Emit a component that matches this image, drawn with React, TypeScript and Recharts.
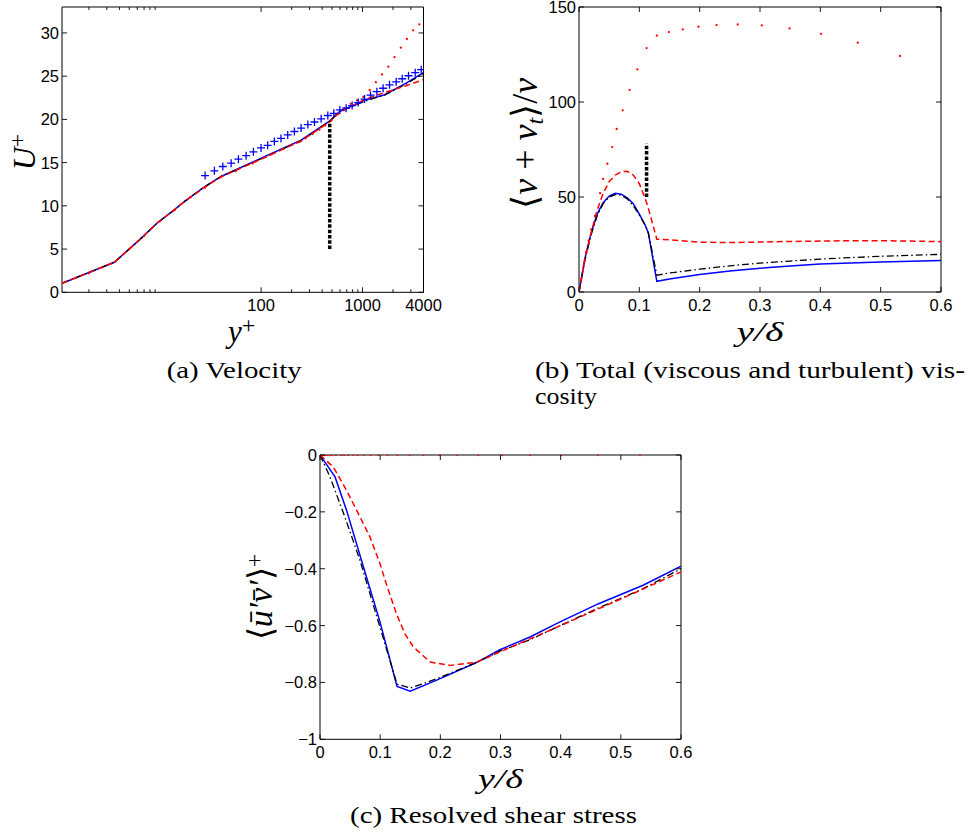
import React from 'react';
import { ComposedChart, Line, Scatter, XAxis, YAxis, ReferenceArea } from 'recharts';

// ---------------- Panel (a): velocity profile U+ vs y+ (log x) ----------------
const velYPlus = [1.09, 3.56, 6.3, 9.55, 13.9, 17.5, 26.5, 40.3, 100, 248, 472, 593, 1047, 1650, 2700, 4000];
const velBlue = [1.05, 3.47, 6.06, 8.07, 9.53, 10.5, 12.05, 13.4, 15.5, 17.6, 19.8, 20.9, 22.2, 22.85, 24.2, 25.4];
const velBlack = [1.05, 3.47, 6.06, 8.07, 9.53, 10.5, 12.05, 13.4, 15.45, 17.55, 19.75, 20.9, 22.1, 22.8, 24.1, 25.3];
const velRedDash = [1.05, 3.47, 6.06, 8.07, 9.53, 10.5, 12.0, 13.35, 15.4, 17.5, 19.7, 20.8, 22.3, 23.1, 23.9, 24.6];
const velDotYPlus = [1.1, 1.5, 2.0, 2.7, 3.6, 5.0, 7.0, 10, 14, 20, 28, 40, 56, 82, 123, 164, 205, 240, 274, 322, 376, 428, 493, 575, 664, 766, 883, 1020, 1177, 1355, 1560, 1800, 2073, 2388, 2744, 3161, 3640];
const velDotU = [1.1, 1.7, 2.2, 2.9, 3.5, 5.0, 6.5, 8.2, 9.5, 11.0, 12.1, 13.3, 14.0, 14.9, 15.9, 16.6, 17.1, 17.4, 17.8, 18.3, 18.8, 19.3, 19.9, 20.6, 21.3, 21.8, 22.2, 22.6, 23.4, 24.3, 25.2, 26.1, 27.2, 28.3, 29.3, 30.3, 31.0];
const velPlusYPlus = [28.0, 34.6, 41.9, 50.6, 59.7, 71.1, 83.9, 99.8, 116, 135, 157, 183, 213, 248, 289, 336, 391, 455, 521, 598, 690, 791, 907, 1047, 1200, 1387, 1600, 1849, 2153, 2466, 2845, 3312, 3796];
const velPlusU = [13.5, 14.05, 14.55, 14.94, 15.4, 15.8, 16.25, 16.7, 17.0, 17.45, 17.8, 18.2, 18.6, 19.0, 19.4, 19.7, 20.07, 20.45, 20.7, 21.1, 21.3, 21.6, 21.95, 22.35, 22.8, 23.2, 23.6, 24.0, 24.35, 24.7, 25.05, 25.4, 25.75];
const velMarkerYPlus = [475, 475];
const velMarkerU = [5, 19.8];
const velXMajor = [100, 1000, 4000];
const velXMinor = [2, 3, 4, 5, 6, 7, 8, 9, 200, 300, 400, 500, 600, 700, 800, 900, 2000, 3000];
const velYTicks = [0, 5, 10, 15, 20, 25, 30];

// ---------------- Panel (b): total viscosity vs y/delta ----------------
const nuX = [0, 0.01, 0.02, 0.03, 0.04, 0.05, 0.06, 0.07, 0.08, 0.09, 0.1, 0.11, 0.115, 0.129, 0.15, 0.2, 0.25, 0.3, 0.35, 0.4, 0.45, 0.5, 0.55, 0.6];
const nuBlue = [0, 18, 31, 41, 47, 50.5, 52, 51.5, 49.5, 46.5, 41, 35, 31, 5.6, 6.8, 9.2, 11, 12.5, 13.7, 14.7, 15.3, 15.8, 16.2, 16.6];
const nuBlack = [0, 17, 30, 40, 46.5, 50, 51.3, 51, 49, 45.5, 40.5, 35, 31, 8.8, 10, 12, 13.8, 15.2, 16.3, 17.3, 18.1, 18.8, 19.3, 19.8];
const nuRedDash = [0, 18, 31, 43, 52, 58, 61.5, 63.3, 63.5, 61.5, 57, 49, 44, 27.8, 27.5, 26.2, 26, 26.3, 26.6, 26.8, 27, 27, 26.8, 26.5];
const nuDotX = [0, 0.004, 0.008, 0.012, 0.016, 0.02, 0.0265, 0.035, 0.04, 0.047, 0.055, 0.0625, 0.0724, 0.084, 0.0967, 0.112, 0.129, 0.149, 0.172, 0.198, 0.228, 0.263, 0.303, 0.349, 0.401, 0.462, 0.532];
const nuDotVal = [0, 7, 14, 21, 27, 33, 40, 52, 59.5, 67.5, 76.3, 85.8, 95.6, 106.3, 117.2, 128.4, 134.9, 136.8, 138.2, 139.6, 140.5, 140.8, 140.3, 138.7, 135.9, 131.2, 124.2];
const nuMarkerX = [0.112, 0.112];
const nuMarkerVal = [50, 78];
const nuYTicks = [0, 50, 100, 150];
const deltaTicks = [0, 0.1, 0.2, 0.3, 0.4, 0.5, 0.6];

// ---------------- Panel (c): resolved shear stress vs y/delta ----------------
const shearBlueX = [0, 0.025, 0.045, 0.069, 0.0997, 0.128, 0.15, 0.194, 0.26, 0.299, 0.349, 0.399, 0.463, 0.537, 0.6];
const shearBlue = [0, -0.077, -0.2, -0.371, -0.587, -0.814, -0.831, -0.792, -0.73, -0.685, -0.64, -0.587, -0.523, -0.458, -0.391];
const shearBlackX = [0, 0.0166, 0.04, 0.0665, 0.0997, 0.128, 0.15, 0.194, 0.26, 0.299, 0.349, 0.399, 0.463, 0.537, 0.6];
const shearBlack = [0, -0.077, -0.21, -0.371, -0.606, -0.806, -0.82, -0.787, -0.73, -0.69, -0.65, -0.6, -0.538, -0.47, -0.4];
const shearRedX = [0, 0.022, 0.044, 0.061, 0.083, 0.0997, 0.11, 0.127, 0.141, 0.155, 0.183, 0.216, 0.26, 0.305, 0.4, 0.526, 0.6];
const shearRed = [0, -0.042, -0.124, -0.195, -0.288, -0.382, -0.452, -0.558, -0.628, -0.675, -0.728, -0.74, -0.729, -0.687, -0.6, -0.482, -0.411];
const shearDotVal = [0, 0, 0, 0, 0, 0, 0, 0, 0, 0, 0, 0, 0, 0, 0, 0, 0, 0, 0, 0, 0, 0, 0, 0, 0, 0, 0];
const shearYTicks = [0, -0.2, -0.4, -0.6, -0.8, -1];

// ---------------- helpers ----------------
const pts = (xs: number[], ys: number[]) => xs.map((x, i) => ({ x, y: ys[i] }));
const SANS = '"Liberation Sans", Arial, Helvetica, sans-serif';
const SERIF = '"Liberation Serif", "Times New Roman", serif';
const BLUE = '#0000ff';
const RED = '#ff0000';
const TICK_FS = 16.5;

const fmtDelta = (v: number) => (v === 0 ? '0' : v.toFixed(1));
const fmtInt = (v: number) => String(v);
const fmtShear = (v: number) => (v === 0 ? '0' : v === -1 ? '\u22121' : '\u2212' + Math.abs(v).toFixed(1));

const makeXTick = (plotH: number, major: (v: number) => boolean, fmt: (v: number) => string) => (props: any) => {
  const { x, y, payload } = props;
  const v = payload.value as number;
  const isMaj = major(v);
  const L = isMaj ? 5 : 3;
  return (
    <g>
      <line x1={x} x2={x} y1={y} y2={y - L} stroke="#000" strokeWidth={0.9} />
      <line x1={x} x2={x} y1={y - plotH} y2={y - plotH + L} stroke="#000" strokeWidth={0.9} />
      {isMaj ? (
        <text x={x} y={y + 18.5} textAnchor="middle" fontFamily={SANS} fontSize={TICK_FS} fill="#000">
          {fmt(v)}
        </text>
      ) : null}
    </g>
  );
};

const makeYTick = (plotW: number, fmt: (v: number) => string) => (props: any) => {
  const { x, y, payload } = props;
  const v = payload.value as number;
  return (
    <g>
      <line x1={x} x2={x + 5} y1={y} y2={y} stroke="#000" strokeWidth={0.9} />
      <line x1={x + plotW} x2={x + plotW - 5} y1={y} y2={y} stroke="#000" strokeWidth={0.9} />
      <text x={x - 3} y={y + 6} textAnchor="end" fontFamily={SANS} fontSize={TICK_FS} fill="#000">
        {fmt(v)}
      </text>
    </g>
  );
};

const dotShape = (props: any) => <circle cx={props.cx} cy={props.cy} r={1.15} fill={RED} />;
const plusShape = (props: any) => (
  <path
    d={`M${props.cx - 4},${props.cy}h8M${props.cx},${props.cy - 4}v8`}
    stroke={BLUE}
    strokeWidth={1.3}
    fill="none"
  />
);

type PanelProps = {
  left: number;
  top: number;
  w: number;
  h: number;
  xDomain: [number, number];
  yDomain: [number, number];
  xLog?: boolean;
  xTicks: number[];
  xMajor: (v: number) => boolean;
  fmtX: (v: number) => string;
  yTicks: number[];
  fmtY: (v: number) => string;
  series: React.ReactNode[];
};

function Panel(p: PanelProps) {
  const ML = 70;
  const MT = 10;
  const MR = 20;
  const MB = 30;
  const W = p.w + ML + MR;
  const H = p.h + MT + MB;
  return (
    <div style={{ position: 'absolute', left: p.left - ML, top: p.top - MT, width: W, height: H }}>
      <ComposedChart width={W} height={H} margin={{ top: MT, right: MR, bottom: 0, left: 0 }}>
        <XAxis
          dataKey="x"
          type="number"
          scale={p.xLog ? 'log' : 'linear'}
          domain={p.xDomain}
          allowDataOverflow
          ticks={p.xTicks}
          interval={0}
          tickSize={0}
          tickMargin={0}
          tickLine={false}
          axisLine={false}
          height={MB}
          tick={makeXTick(p.h, p.xMajor, p.fmtX)}
        />
        <YAxis
          dataKey="y"
          type="number"
          domain={p.yDomain}
          allowDataOverflow
          ticks={p.yTicks}
          interval={0}
          tickSize={0}
          tickMargin={0}
          tickLine={false}
          axisLine={false}
          width={ML}
          tick={makeYTick(p.w, p.fmtY)}
        />
        <ReferenceArea
          x1={p.xDomain[0]}
          x2={p.xDomain[1]}
          y1={p.yDomain[0]}
          y2={p.yDomain[1]}
          fill="none"
          fillOpacity={0}
          stroke="#000"
          strokeWidth={1}
          ifOverflow="visible"
        />
        {p.series}
      </ComposedChart>
    </div>
  );
}

const solid = (key: string, data: any[], color: string, width = 1.5) => (
  <Line key={key} data={data} dataKey="y" type="linear" stroke={color} strokeWidth={width} dot={false} activeDot={false} isAnimationActive={false} />
);
const dashed = (key: string, data: any[], color: string, dash: string, width = 1.5) => (
  <Line key={key} data={data} dataKey="y" type="linear" stroke={color} strokeWidth={width} strokeDasharray={dash} dot={false} activeDot={false} isAnimationActive={false} />
);
const dots = (key: string, data: any[]) => (
  <Scatter key={key} data={data} dataKey="y" shape={dotShape} isAnimationActive={false} />
);
const pluses = (key: string, data: any[]) => (
  <Scatter key={key} data={data} dataKey="y" shape={plusShape} isAnimationActive={false} />
);

const DASH_DOT = '7 3 1.5 3';
const DASH = '6 3.5';
const MARK = '3.5 1.8';

export default function App() {
  const seriesA = [
    solid('a-blue', pts(velYPlus, velBlue), BLUE),
    dashed('a-black', pts(velYPlus, velBlack), '#000', DASH_DOT, 1.3),
    dashed('a-red', pts(velYPlus, velRedDash), RED, DASH),
    dots('a-dots', pts(velDotYPlus, velDotU)),
    pluses('a-plus', pts(velPlusYPlus, velPlusU)),
    dashed('a-mark', pts(velMarkerYPlus, velMarkerU), '#000', MARK, 3.5),
  ];
  const seriesB = [
    solid('b-blue', pts(nuX, nuBlue), BLUE),
    dashed('b-black', pts(nuX, nuBlack), '#000', DASH_DOT, 1.3),
    dashed('b-red', pts(nuX, nuRedDash), RED, DASH),
    dots('b-dots', pts(nuDotX, nuDotVal)),
    dashed('b-mark', pts(nuMarkerX, nuMarkerVal), '#000', MARK, 3.5),
  ];
  const seriesC = [
    solid('c-blue', pts(shearBlueX, shearBlue), BLUE),
    dashed('c-black', pts(shearBlackX, shearBlack), '#000', DASH_DOT, 1.3),
    dashed('c-red', pts(shearRedX, shearRed), RED, DASH),
    dots('c-dots', pts(nuDotX, shearDotVal)),
  ];

  const velAll = [...velXMinor, ...velXMajor].sort((a, b) => a - b);

  return (
    <div style={{ position: 'absolute', left: 0, top: 0, width: 974, height: 835, background: '#fff', overflow: 'hidden' }}>
      <Panel
        left={61.5}
        top={7}
        w={361.5}
        h={285.3}
        xDomain={[1.085, 4000]}
        yDomain={[0, 33]}
        xLog
        xTicks={velAll}
        xMajor={(v) => velXMajor.includes(v)}
        fmtX={fmtInt}
        yTicks={velYTicks}
        fmtY={fmtInt}
        series={seriesA}
      />
      <Panel
        left={579}
        top={7.3}
        w={362}
        h={285}
        xDomain={[0, 0.6]}
        yDomain={[0, 150]}
        xTicks={deltaTicks}
        xMajor={() => true}
        fmtX={fmtDelta}
        yTicks={nuYTicks}
        fmtY={fmtInt}
        series={seriesB}
      />
      <Panel
        left={320}
        top={454.7}
        w={361}
        h={284.3}
        xDomain={[0, 0.6]}
        yDomain={[-1, 0]}
        xTicks={deltaTicks}
        xMajor={() => true}
        fmtX={fmtDelta}
        yTicks={shearYTicks}
        fmtY={fmtShear}
        series={seriesC}
      />
      <svg width={974} height={835} style={{ position: 'absolute', left: 0, top: 0, pointerEvents: 'none' }}>
        {/* panel (a) titles */}
        <text transform="translate(35,152) rotate(-90)" textAnchor="middle" fontFamily={SERIF} fontSize={32} fill="#000">
          <tspan fontStyle="italic">U</tspan>
          <tspan fontSize={24} dy={-10}>+</tspan>
        </text>
        <text x={241.7} y={341.7} textAnchor="middle" fontFamily={SERIF} fontSize={31} fill="#000">
          <tspan fontStyle="italic">y</tspan>
          <tspan fontSize={24} dy={-9}>+</tspan>
        </text>
        <text x={166.7} y={378} fontFamily={SERIF} fontSize={23} fill="#000" textLength={135} lengthAdjust="spacingAndGlyphs">
          (a) Velocity
        </text>

        {/* panel (b) titles */}
        <text transform="translate(537,143.3) rotate(-90)" textAnchor="middle" fontFamily={SERIF} fontSize={36} fill="#000">
          <tspan>{'\u27E8'}</tspan>
          <tspan fontStyle="italic">{'\u03BD'}</tspan>
          <tspan>{' + '}</tspan>
          <tspan fontStyle="italic">{'\u03BD'}</tspan>
          <tspan fontStyle="italic" fontSize={24} dy={6}>t</tspan>
          <tspan dy={-6}>{'\u27E9/'}</tspan>
          <tspan fontStyle="italic">{'\u03BD'}</tspan>
        </text>
        <text x={760} y={341} textAnchor="middle" fontFamily={SERIF} fontSize={28} fill="#000" fontStyle="italic" textLength={47} lengthAdjust="spacingAndGlyphs">
          {'y/\u03B4'}
        </text>
        <text x={535} y={378} fontFamily={SERIF} fontSize={23} fill="#000" textLength={430} lengthAdjust="spacingAndGlyphs">
          (b) Total (viscous and turbulent) vis-
        </text>
        <text x={535} y={404} fontFamily={SERIF} fontSize={23} fill="#000" textLength={62} lengthAdjust="spacingAndGlyphs">
          cosity
        </text>

        {/* panel (c) titles */}
        <text transform="translate(272,597) rotate(-90)" textAnchor="middle" fontFamily={SERIF} fontSize={34} fill="#000">
          <tspan>{'\u27E8'}</tspan>
          <tspan fontStyle="italic">{'u\u0304\u2032v\u0304\u2032'}</tspan>
          <tspan>{'\u27E9'}</tspan>
          <tspan fontSize={24} dy={-10}>+</tspan>
        </text>
        <text x={500.5} y={787.5} textAnchor="middle" fontFamily={SERIF} fontSize={28} fill="#000" fontStyle="italic" textLength={45} lengthAdjust="spacingAndGlyphs">
          {'y/\u03B4'}
        </text>
        <text x={350} y={823} fontFamily={SERIF} fontSize={23} fill="#000" textLength={287} lengthAdjust="spacingAndGlyphs">
          (c) Resolved shear stress
        </text>
      </svg>
    </div>
  );
}
